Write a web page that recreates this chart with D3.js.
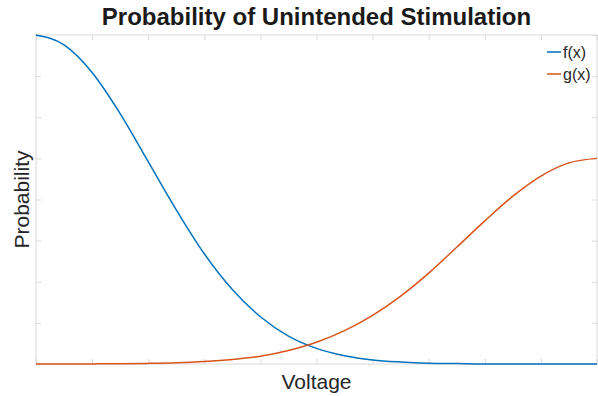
<!DOCTYPE html>
<html>
<head>
<meta charset="utf-8">
<script src="https://cdn.jsdelivr.net/npm/d3@7"></script>
<style>
  html, body { margin: 0; padding: 0; background: #fff; }
  svg { display: block; font-family: "Liberation Sans", Arial, sans-serif; }
</style>
</head>
<body>
<svg id="chart" width="598" height="396"></svg>
<script>
// ---- data ----
const voltage = [0, 0.5, 1, 1.5, 2, 2.5, 3, 3.5, 4, 4.5, 5, 5.5, 6, 6.5, 7, 7.5, 8, 8.5, 9, 9.5, 10];
const fValues = [0.800, 0.776, 0.709, 0.609, 0.492, 0.375, 0.268, 0.181, 0.115, 0.068, 0.038, 0.020, 0.010, 0.005, 0.002, 0.001, 0.000, 0.000, 0.000, 0.000, 0.000];
const gValues = [0.000, 0.000, 0.0003, 0.0007, 0.0015, 0.003, 0.006, 0.011, 0.019, 0.033, 0.053, 0.081, 0.118, 0.165, 0.221, 0.284, 0.348, 0.408, 0.457, 0.489, 0.500];
const seriesNames = ["f(x)", "g(x)"];
const xTicks = [0, 1, 2, 3, 4, 5, 6, 7, 8, 9, 10];
const yTicks = [0, 0.1, 0.2, 0.3, 0.4, 0.5, 0.6, 0.7, 0.8];
const titleText = "Probability of Unintended Stimulation";
const xLabel = "Voltage";
const yLabel = "Probability";

// ---- layout ----
const svg = d3.select("#chart");
const m = { left: 36, right: 597, top: 35, bottom: 364 };
const x = d3.scaleLinear().domain([0, 10]).range([m.left, m.right]);
const y = d3.scaleLinear().domain([0, 0.8]).range([m.bottom, m.top]);
const colors = ["#0072BD", "#D95319"];
const axisColor = "#d9d9d9";

// box
svg.append("rect")
  .attr("x", m.left).attr("y", m.top)
  .attr("width", m.right - m.left).attr("height", m.bottom - m.top)
  .attr("fill", "none").attr("stroke", axisColor).attr("stroke-width", 1);

function styleAxis(g) {
  g.select(".domain").remove();
  g.selectAll(".tick line").attr("stroke", axisColor);
  g.selectAll(".tick text").remove();
}
svg.append("g").attr("transform", `translate(0,${m.bottom})`)
  .call(d3.axisBottom(x).tickValues(xTicks).tickSizeInner(-5).tickSizeOuter(0).tickFormat(""))
  .call(styleAxis);
svg.append("g").attr("transform", `translate(0,${m.top})`)
  .call(d3.axisTop(x).tickValues(xTicks).tickSizeInner(-5).tickSizeOuter(0).tickFormat(""))
  .call(styleAxis);
svg.append("g").attr("transform", `translate(${m.left},0)`)
  .call(d3.axisLeft(y).tickValues(yTicks).tickSizeInner(-5).tickSizeOuter(0).tickFormat(""))
  .call(styleAxis);
svg.append("g").attr("transform", `translate(${m.right},0)`)
  .call(d3.axisRight(y).tickValues(yTicks).tickSizeInner(-5).tickSizeOuter(0).tickFormat(""))
  .call(styleAxis);

// lines
const series = [fValues, gValues];
const line = d3.line().x((d, i) => x(voltage[i])).y(d => y(d)).curve(d3.curveMonotoneX);
series.forEach((vals, k) => {
  svg.append("path").datum(vals)
    .attr("d", line)
    .attr("fill", "none")
    .attr("stroke", colors[k])
    .attr("stroke-width", 1.5);
});

// title and labels
svg.append("text").attr("x", (m.left + m.right) / 2).attr("y", 25)
  .attr("text-anchor", "middle").attr("font-size", 24).attr("font-weight", "bold")
  .attr("fill", "#1a1a1a").text(titleText);
svg.append("text").attr("x", (m.left + m.right) / 2).attr("y", 389)
  .attr("text-anchor", "middle").attr("font-size", 21)
  .attr("fill", "#262626").text(xLabel);
svg.append("text").attr("transform", `translate(29,${(m.top + m.bottom) / 2}) rotate(-90)`)
  .attr("text-anchor", "middle").attr("font-size", 21)
  .attr("fill", "#262626").text(yLabel);

// legend
const legend = svg.append("g");
seriesNames.forEach((name, k) => {
  const ly = 52 + k * 22;
  legend.append("line").attr("x1", 547).attr("x2", 561).attr("y1", ly).attr("y2", ly)
    .attr("stroke", colors[k]).attr("stroke-width", 1.5);
  legend.append("text").attr("x", 563).attr("y", ly + 5.5)
    .attr("font-size", 16).attr("fill", "#262626").text(name);
});
</script>
</body>
</html>
